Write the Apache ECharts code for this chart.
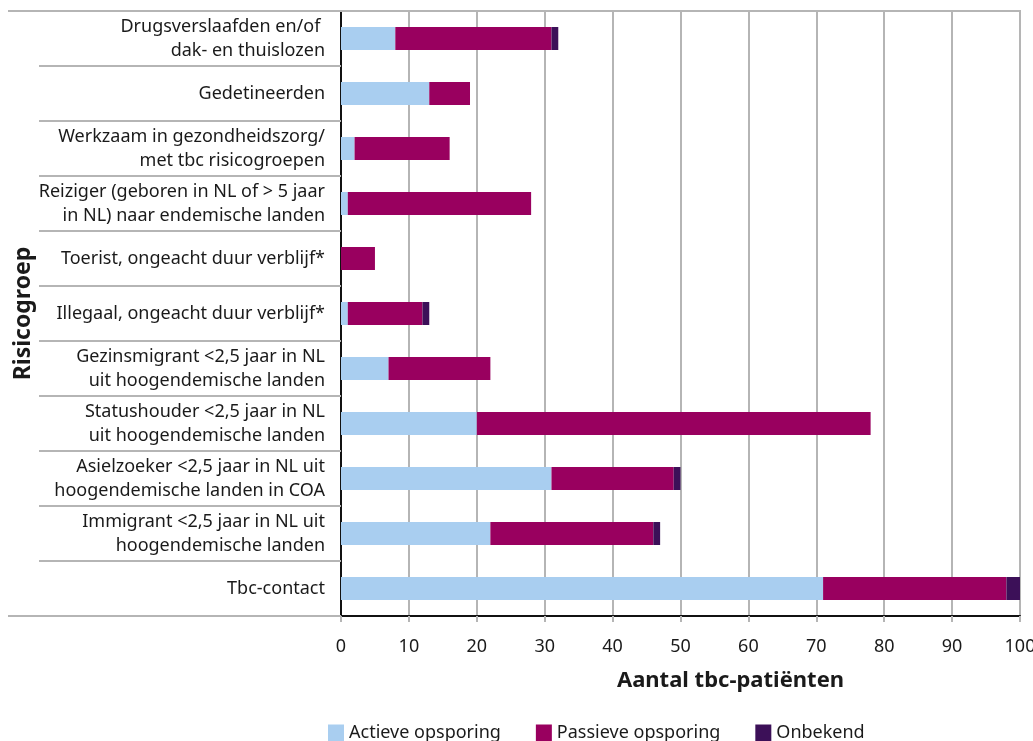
<!DOCTYPE html>
<html>
<head>
<meta charset="utf-8">
<script src="https://cdn.jsdelivr.net/npm/echarts@6/dist/echarts.min.js"></script>
<style>
  html, body { margin: 0; padding: 0; background: #fff; }
  #chart { width: 1033px; height: 741px; }
</style>
</head>
<body>
<div id="chart"></div>
<script>
// Risk groups, listed from top to bottom
const categories = [
  'Drugsverslaafden en/of \ndak- en thuislozen',
  'Gedetineerden',
  'Werkzaam in gezondheidszorg/\nmet tbc risicogroepen',
  'Reiziger (geboren in NL of > 5 jaar\nin NL) naar endemische landen',
  'Toerist, ongeacht duur verblijf*',
  'Illegaal, ongeacht duur verblijf*',
  'Gezinsmigrant <2,5 jaar in NL\nuit hoogendemische landen',
  'Statushouder <2,5 jaar in NL\nuit hoogendemische landen',
  'Asielzoeker <2,5 jaar in NL uit\nhoogendemische landen in COA',
  'Immigrant <2,5 jaar in NL uit\nhoogendemische landen',
  'Tbc-contact'
];

// Number of tb patients per detection method
const actieve  = [8, 13, 2, 1, 0, 1, 7, 20, 31, 22, 71];
const passieve = [23, 6, 14, 27, 5, 11, 15, 58, 18, 24, 27];
const onbekend = [1, 0, 0, 0, 0, 1, 0, 0, 1, 1, 2];

const seriesNames = ['Actieve opsporing', 'Passieve opsporing', 'Onbekend'];
const colors = ['#a9cef0', '#99005f', '#3c1058'];

const FONT = '"Noto Sans", "Open Sans", sans-serif';
const GRAY = '#b5b5b5';
const TEXT = '#1a1a1a';

const chart = echarts.init(document.getElementById('chart'));

const makeSeries = (name, data, color) => ({
  name,
  type: 'bar',
  stack: 'total',
  data,
  barWidth: 23,
  itemStyle: { color },
  emphasis: { disabled: true }
});

chart.setOption({
  animation: false,
  textStyle: { fontFamily: FONT },
  color: colors,
  grid: { left: 341, right: 13, top: 11, bottom: 125, containLabel: false, outerBoundsMode: 'none' },
  legend: {
    top: 724,
    left: 328,
    padding: 0,
    itemWidth: 16,
    itemHeight: 17,
    itemGap: 35,
    icon: 'rect',
    textStyle: { fontFamily: FONT, fontSize: 18, color: TEXT },
    data: seriesNames
  },
  xAxis: {
    type: 'value',
    min: 0,
    max: 100,
    interval: 10,
    name: 'Aantal tbc-patiënten',
    nameLocation: 'middle',
    nameGap: 54,
    nameTextStyle: {
      fontFamily: FONT, fontSize: 22, fontWeight: 'bold', color: TEXT,
      padding: [0, 0, 0, 100]
    },
    axisLine: { show: true, lineStyle: { color: '#111', width: 2 } },
    axisTick: { show: true, length: 6, lineStyle: { color: GRAY, width: 2 } },
    splitLine: { show: true, lineStyle: { color: GRAY, width: 2 } },
    axisLabel: { fontFamily: FONT, fontSize: 18, color: TEXT, margin: 22 }
  },
  yAxis: {
    type: 'category',
    data: categories,
    inverse: true,
    name: 'Risicogroep',
    nameLocation: 'middle',
    nameGap: 306,
    nameMoveOverlap: false,
    nameRotate: 90,
    nameTextStyle: { fontFamily: FONT, fontSize: 23, fontWeight: 'bold', color: TEXT },
    axisLine: { show: true, lineStyle: { color: '#111', width: 2 } },
    axisTick: { show: true, length: 302, lineStyle: { color: GRAY, width: 2 } },
    axisLabel: {
      fontFamily: FONT, fontSize: 18, color: TEXT, margin: 16,
      lineHeight: 24, align: 'right'
    }
  },
  series: [
    makeSeries(seriesNames[0], actieve, colors[0]),
    makeSeries(seriesNames[1], passieve, colors[1]),
    makeSeries(seriesNames[2], onbekend, colors[2])
  ],
  graphic: [
    // outer frame lines: top across the chart, bottom under the labels
    { type: 'line', shape: { x1: 8, y1: 11, x2: 1021, y2: 11 }, style: { stroke: GRAY, lineWidth: 2 }, z: 100 },
    { type: 'line', shape: { x1: 8, y1: 616, x2: 341, y2: 616 }, style: { stroke: GRAY, lineWidth: 2 }, z: 100 }
  ]
});
</script>
</body>
</html>
